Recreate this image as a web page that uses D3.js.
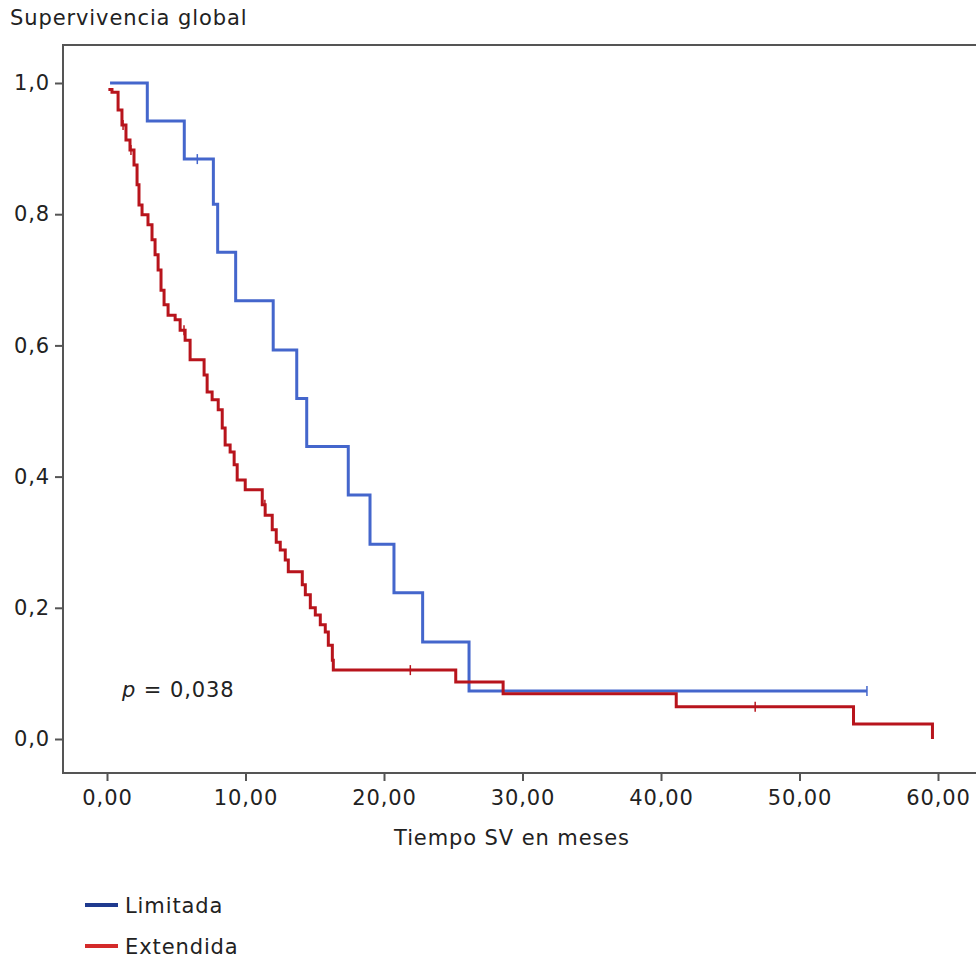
<!DOCTYPE html>
<html>
<head>
<meta charset="utf-8">
<script src="https://cdn.jsdelivr.net/npm/d3@7"></script>
<style>
  html, body { margin: 0; padding: 0; background: #fff; }
  svg { display: block; }
  text { font-family: "DejaVu Sans", Verdana, sans-serif; fill: #222; letter-spacing: 0.9px; }
</style>
</head>
<body>
<svg id="chart" width="976" height="960"></svg>
<script>
// ---- data ----
const xTicks = [0, 10, 20, 30, 40, 50, 60];
const yTicks = [0, 0.2, 0.4, 0.6, 0.8, 1.0];
const seriesNames = ["Limitada", "Extendida"];

// Limitada: event times (months) and survival after each step
const limTimes = [0.22, 2.91, 5.58, 7.68, 7.99, 9.29, 12.0, 13.70, 14.42, 17.42, 18.99, 20.72, 22.79, 26.14, 54.87];
const limSurv  = [1.0, 0.942, 0.884, 0.815, 0.742, 0.668, 0.593, 0.519, 0.446, 0.372, 0.297, 0.223, 0.148, 0.073, 0.073];
const limCensor = [6.52, 54.87];

// Extendida
const extTimes = [0.1, 0.36, 0.80, 1.08, 1.37, 1.66, 1.95, 2.17, 2.31, 2.53, 2.96, 3.25, 3.47, 3.69, 3.90, 4.12, 4.41, 4.92, 5.28, 5.64, 6.00, 7.01, 7.23, 7.59, 8.03, 8.32, 8.53, 8.89, 9.18, 9.40, 9.98, 11.21, 11.42, 11.93, 12.22, 12.51, 12.87, 13.09, 14.10, 14.32, 14.68, 15.04, 15.40, 15.76, 15.98, 16.27, 16.34, 25.18, 28.6, 41.1, 53.9, 59.6];
const extSurv  = [0.99, 0.986, 0.959, 0.936, 0.913, 0.898, 0.875, 0.845, 0.814, 0.799, 0.784, 0.761, 0.738, 0.715, 0.684, 0.662, 0.646, 0.639, 0.623, 0.608, 0.578, 0.555, 0.529, 0.517, 0.502, 0.474, 0.448, 0.4375, 0.418, 0.395, 0.380, 0.357, 0.341, 0.319, 0.300, 0.288, 0.273, 0.255, 0.235, 0.220, 0.200, 0.189, 0.174, 0.163, 0.143, 0.120, 0.105, 0.087, 0.069, 0.049, 0.023, 0.0];
const extCensor = [1.16, 1.73, 5.56, 11.4, 21.9, 46.8];

const pText = "0,038";

// ---- layout ----
const FS = "21px";
const svg = d3.select("#chart");
const frame = {left: 63, top: 45, bottom: 773, right: 990};
const x = d3.scaleLinear().domain([0, 60]).range([107, 938]);
const y = d3.scaleLinear().domain([0, 1]).range([739, 83]);
const fmtX = v => d3.format(".2f")(v).replace(".", ",");
const fmtY = v => d3.format(".1f")(v).replace(".", ",");

// frame
svg.append("path")
  .attr("d", `M${frame.right},${frame.top}H${frame.left}V${frame.bottom}H${frame.right}`)
  .attr("fill", "none").attr("stroke", "#555").attr("stroke-width", 2);

// y axis
const yAxis = d3.axisLeft(y).tickValues(yTicks).tickFormat(fmtY).tickSize(8).tickPadding(5);
const gy = svg.append("g").attr("transform", `translate(${frame.left},0)`).call(yAxis);
gy.select(".domain").remove();
gy.selectAll(".tick line").attr("stroke", "#555").attr("stroke-width", 2);
gy.selectAll(".tick text").style("font-size", FS).attr("fill", "#222");

// x axis
const xAxis = d3.axisBottom(x).tickValues(xTicks).tickFormat(fmtX).tickSize(8).tickPadding(9);
const gx = svg.append("g").attr("transform", `translate(0,${frame.bottom})`).call(xAxis);
gx.select(".domain").remove();
gx.selectAll(".tick line").attr("stroke", "#555").attr("stroke-width", 2);
gx.selectAll(".tick text").style("font-size", FS).attr("fill", "#222");

// titles
svg.append("text").attr("x", 10).attr("y", 25).style("font-size", FS).text("Supervivencia global");
svg.append("text").attr("x", 512).attr("y", 845).attr("text-anchor", "middle").style("font-size", FS).text("Tiempo SV en meses");

// curves
const line = d3.line().x(d => x(d[0])).y(d => y(d[1])).curve(d3.curveStepAfter);
function stepPts(times, surv, startSurv) {
  const pts = [[times[0], startSurv]];
  times.forEach((t, i) => pts.push([t, surv[i]]));
  return pts;
}
function survAt(times, surv, t) {
  let s = surv[0];
  times.forEach((tt, i) => { if (tt <= t) s = surv[i]; });
  return s;
}
const curves = [
  {times: limTimes, surv: limSurv, censor: limCensor, color: "#4466cc", start: 1.0},
  {times: extTimes, surv: extSurv, censor: extCensor, color: "#b8141c", start: 0.99}
];
curves.forEach(c => {
  svg.append("path").datum(stepPts(c.times, c.surv, c.start))
    .attr("d", line).attr("fill", "none").attr("stroke", c.color).attr("stroke-width", 3);
  svg.selectAll(null).data(c.censor).enter().append("line")
    .attr("x1", d => x(d)).attr("x2", d => x(d))
    .attr("y1", d => y(survAt(c.times, c.surv, d)) - 5)
    .attr("y2", d => y(survAt(c.times, c.surv, d)) + 5)
    .attr("stroke", c.color).attr("stroke-width", 1.5);
});

// p value
const pt = svg.append("text").attr("x", 122).attr("y", 697).style("font-size", FS);
pt.append("tspan").style("font-style", "italic").text("p");
pt.append("tspan").text(" = " + pText);

// legend
const legColors = ["#1f3a8f", "#d42a2a"];
seriesNames.forEach((n, i) => {
  const ly = 905 + i * 41;
  svg.append("line").attr("x1", 85).attr("x2", 118).attr("y1", ly).attr("y2", ly)
    .attr("stroke", legColors[i]).attr("stroke-width", 4);
  svg.append("text").attr("x", 125).attr("y", ly + 8).style("font-size", FS).text(n);
});
</script>
</body>
</html>
